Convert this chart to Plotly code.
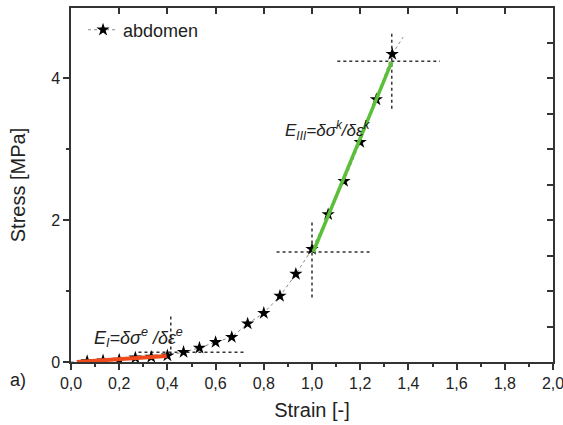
import plotly.graph_objects as go

# Data
strain = [0.067, 0.133, 0.200, 0.267, 0.333, 0.400, 0.467, 0.533, 0.600, 0.667,
          0.733, 0.800, 0.867, 0.933, 1.000, 1.067, 1.133, 1.200, 1.267, 1.333]
stress = [0.01, 0.02, 0.03, 0.06, 0.07, 0.09, 0.14, 0.20, 0.28, 0.35,
          0.54, 0.69, 0.93, 1.24, 1.59, 2.08, 2.55, 3.10, 3.70, 4.34]

# guide curve extension beyond the data
ext_x = [0.0, 0.067]
ext_y = [0.0, 0.01]
ext2_x = [1.333, 1.378]
ext2_y = [4.34, 4.58]

# fitted slopes
red_x = [0.024, 0.397]
red_y = [0.0, 0.085]
green_x = [1.005, 1.331]
green_y = [1.55, 4.23]

# dotted construction lines (x pairs, y pairs)
guides = [
    ([0.853, 1.24], [1.55, 1.55]),
    ([1.0, 1.0], [0.91, 1.99]),
    ([1.105, 1.531], [4.24, 4.24]),
    ([1.331, 1.331], [3.57, 4.64]),
    ([0.28, 0.72], [0.136, 0.136]),
    ([0.414, 0.414], [0.09, 0.66]),
]

fig = go.Figure()

for gx, gy in guides:
    fig.add_trace(go.Scatter(x=gx, y=gy, mode="lines", showlegend=False,
                             line=dict(color="#333333", width=1.5, dash="dot"),
                             hoverinfo="skip"))

for ex, ey in [(ext_x, ext_y), (ext2_x, ext2_y)]:
    fig.add_trace(go.Scatter(x=ex, y=ey, mode="lines", showlegend=False,
                             line=dict(color="#888888", width=1, dash="dot")))

fig.add_trace(go.Scatter(x=strain, y=stress, mode="lines+markers", name="abdomen",
                         line=dict(color="#888888", width=1, dash="dot"),
                         marker=dict(symbol="star", size=10, color="black")))

fig.add_trace(go.Scatter(x=red_x, y=red_y, mode="lines", showlegend=False,
                         line=dict(color="#EE4A1C", width=4)))
fig.add_trace(go.Scatter(x=green_x, y=green_y, mode="lines", showlegend=False,
                         line=dict(color="#5CBF3A", width=3.5)))

# invisible trace for overlay axes
fig.add_trace(go.Scatter(x=[0], y=[0], xaxis="x2", yaxis="y2", mode="markers",
                         marker=dict(opacity=0), showlegend=False, hoverinfo="skip"))

axis_color = "#333333"
font_family = "Liberation Sans, Arial, sans-serif"

fig.update_layout(
    template="none",
    width=563, height=425,
    margin=dict(l=71, r=10, t=8, b=63, autoexpand=False),
    paper_bgcolor="white", plot_bgcolor="white",
    separators=",.",
    font=dict(family=font_family, color="#222222", size=15),
    showlegend=True,
    legend=dict(x=0.025, y=0.99, xanchor="left", yanchor="top",
                bgcolor="rgba(0,0,0,0)", font=dict(size=18)),
    xaxis=dict(range=[0, 2], dtick=0.2, tickformat=".1f", showgrid=False, zeroline=False,
               automargin=False,
               showline=True, linecolor=axis_color, linewidth=1.5, mirror=True,
               ticks="outside", ticklen=6, tickwidth=1.5, tickcolor=axis_color,
               minor=dict(dtick=0.1, ticks="outside", ticklen=3, tickcolor=axis_color, tickwidth=1.5),
               title=dict(text="Strain [-]", font=dict(size=20), standoff=12),
               tickfont=dict(size=16), ticklabeloverflow="allow"),
    yaxis=dict(range=[0, 4.99], dtick=2, showgrid=False, zeroline=False,
               automargin=False,
               showline=True, linecolor=axis_color, linewidth=1.5, mirror=True,
               ticks="outside", ticklen=6, tickwidth=1.5, tickcolor=axis_color,
               minor=dict(dtick=1, ticks="outside", ticklen=3, tickcolor=axis_color, tickwidth=1.5),
               title=dict(text="Stress [MPa]", font=dict(size=20), standoff=20),
               tickfont=dict(size=16)),
    xaxis2=dict(range=[0, 2], overlaying="x", side="top", dtick=0.2, showgrid=False,
                automargin=False,
                zeroline=False, showticklabels=False, ticks="inside", ticklen=6,
                tickwidth=1.5, tickcolor=axis_color, showline=False),
    yaxis2=dict(range=[0, 4.99], overlaying="y", side="right", dtick=0.5, showgrid=False,
                automargin=False,
                zeroline=False, showticklabels=False, ticks="inside", ticklen=6,
                tickwidth=1.5, tickcolor=axis_color, showline=False),
)

fig.add_annotation(x=0.087, y=0.34, xref="x", yref="y", xanchor="left", yanchor="middle",
                   showarrow=False, font=dict(size=18, color="#222222"),
                   text="<i>E<sub>I</sub>=δσ<sup>e</sup> /δε<sup>e</sup></i>")
fig.add_annotation(x=0.881, y=3.27, xref="x", yref="y", xanchor="left", yanchor="middle",
                   showarrow=False, font=dict(size=17, color="#222222"),
                   text="<i>E<sub>III</sub>=δσ<sup>k</sup>/δε<sup>k</sup></i>")
fig.add_annotation(x=-0.131, y=-0.051, xref="paper", yref="paper", showarrow=False,
                   xanchor="left", yanchor="middle",
                   text="a)", font=dict(size=18, color="#222222"))

fig.write_html("out.html")
